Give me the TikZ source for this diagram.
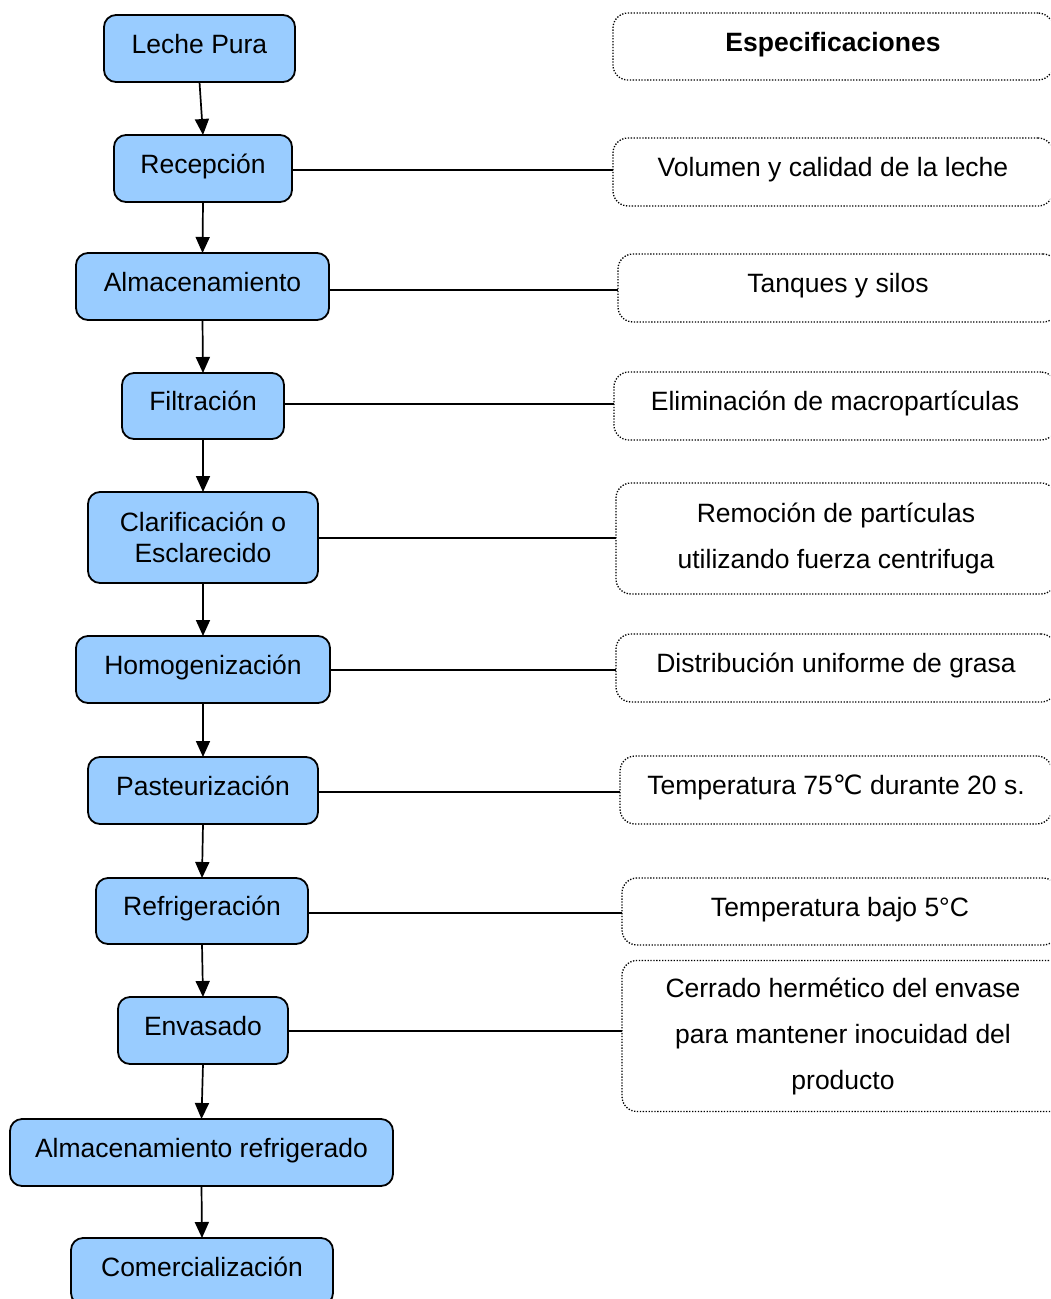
\documentclass[tikz,border=0pt]{standalone}
\usepackage{fontspec}
\setmainfont{Liberation Sans}
\newfontfamily\dvfont{DejaVu Sans}
\usetikzlibrary{arrows.meta,calc}
\tikzset{
  lbox/.style={draw=black, line width=1.8pt, fill=boxblue, rounded corners=12pt,
    inner sep=0pt, outer sep=0pt, align=center, font=\fontsize{26.5pt}{31pt}\selectfont},
  lone/.style={lbox, text height=20pt, text depth=11pt},
  rbox/.style={draw=black, line width=1.3pt, dash pattern=on 1.3pt off 1.6pt, rounded corners=15pt,
    inner sep=0pt, outer sep=0pt, align=center, font=\fontsize{26.5pt}{31pt}\selectfont},
  rone/.style={rbox, text height=20pt, text depth=11pt},
  flow/.style={line width=1.7pt, -{Triangle[length=16pt,width=14pt]}},
  link/.style={line width=1.7pt}
}
\definecolor{boxblue}{HTML}{99CCFF}
\begin{document}
\begin{tikzpicture}[x=1pt,y=-1pt]
\clip (0,0) rectangle (1050,1299);
\fill[white] (0,0) rectangle (1050,1299);
% left process boxes
\node[lone, minimum width=191pt, minimum height=67pt] (lp)  at (199.5,48.5)  {Leche Pura};
\node[lone, minimum width=178pt, minimum height=67pt] (rec) at (203,168.5)   {Recepción};
\node[lone, minimum width=253pt, minimum height=67pt] (alm) at (202.5,286.5) {Almacenamiento};
\node[lone, minimum width=162pt, minimum height=66pt] (fil) at (203,406)     {Filtración};
\node[lbox, minimum width=230pt, minimum height=91pt] (cla) at (203,537.5)   {Clarificación o\\Esclarecido};
\node[lone, minimum width=254pt, minimum height=67pt] (hom) at (203,669.5)   {Homogenización};
\node[lone, minimum width=230pt, minimum height=67pt] (pas) at (203,790.5)   {Pasteurización};
\node[lone, minimum width=212pt, minimum height=66pt] (ref) at (202,911)     {Refrigeración};
\node[lone, minimum width=170pt, minimum height=67pt] (env) at (203,1030.5)  {Envasado};
\node[lone, minimum width=383pt, minimum height=67pt] (almr) at (201.5,1152.5) {Almacenamiento refrigerado};
\node[lone, minimum width=262pt, minimum height=67pt] (com) at (202,1271.5)  {Comercialización};
% right specification boxes
\node[rone, minimum width=440pt, minimum height=67pt] (r0) at (833,46.5) {\bfseries Especificaciones};
\node[rone, minimum width=440pt, minimum height=68pt] (r1) at (833,172)  {Volumen y calidad de la leche};
\node[rone, minimum width=440pt, minimum height=68pt] (r2) at (838,288)  {Tanques y silos};
\node[rone, minimum width=442pt, minimum height=68pt] (r3) at (835,406)  {Eliminación de macropartículas};
\node[rbox, minimum width=440pt, minimum height=111pt] (r4) at (836,538.5) {Remoción de partículas\\[15pt]utilizando fuerza centrifuga};
\node[rone, minimum width=440pt, minimum height=68pt] (r5) at (836,668)  {Distribución uniforme de grasa};
\node[rone, minimum width=432pt, minimum height=68pt] (r6) at (836,790)  {Temperatura 75{\dvfont ℃} durante 20 s.};
\node[rone, minimum width=436pt, minimum height=67pt] (r7) at (840,911.5) {Temperatura bajo 5°C};
\node[rbox, minimum width=442pt, minimum height=151pt] (r8) at (843,1036) {Cerrado hermético del envase\\[15pt]para mantener inocuidad del\\[15pt]producto};
% flow arrows
\draw[flow] (lp.south) -- (rec.north);
\draw[flow] (rec.south) -- (alm.north);
\draw[flow] (alm.south) -- (fil.north);
\draw[flow] (fil.south) -- (cla.north);
\draw[flow] (cla.south) -- (hom.north);
\draw[flow] (hom.south) -- (pas.north);
\draw[flow] (pas.south) -- (ref.north);
\draw[flow] (ref.south) -- (env.north);
\draw[flow] (env.south) -- (almr.north);
\draw[flow] (almr.south) -- (com.north);
% links to specifications
\coordinate (s1) at ($(rec.east)+(0,1.5)$);
\coordinate (s2) at ($(alm.east)+(0,3.5)$);
\coordinate (s3) at ($(fil.east)+(0,-2)$);
\coordinate (s4) at ($(cla.east)+(0,0.5)$);
\coordinate (s5) at ($(hom.east)+(0,0.5)$);
\coordinate (s6) at ($(pas.east)+(0,1.5)$);
\coordinate (s7) at ($(ref.east)+(0,2)$);
\coordinate (s8) at ($(env.east)+(0,0.5)$);
\draw[link] (s1) -- (s1 -| r1.west);
\draw[link] (s2) -- (s2 -| r2.west);
\draw[link] (s3) -- (s3 -| r3.west);
\draw[link] (s4) -- (s4 -| r4.west);
\draw[link] (s5) -- (s5 -| r5.west);
\draw[link] (s6) -- (s6 -| r6.west);
\draw[link] (s7) -- (s7 -| r7.west);
\draw[link] (s8) -- (s8 -| r8.west);
\end{tikzpicture}
\end{document}
